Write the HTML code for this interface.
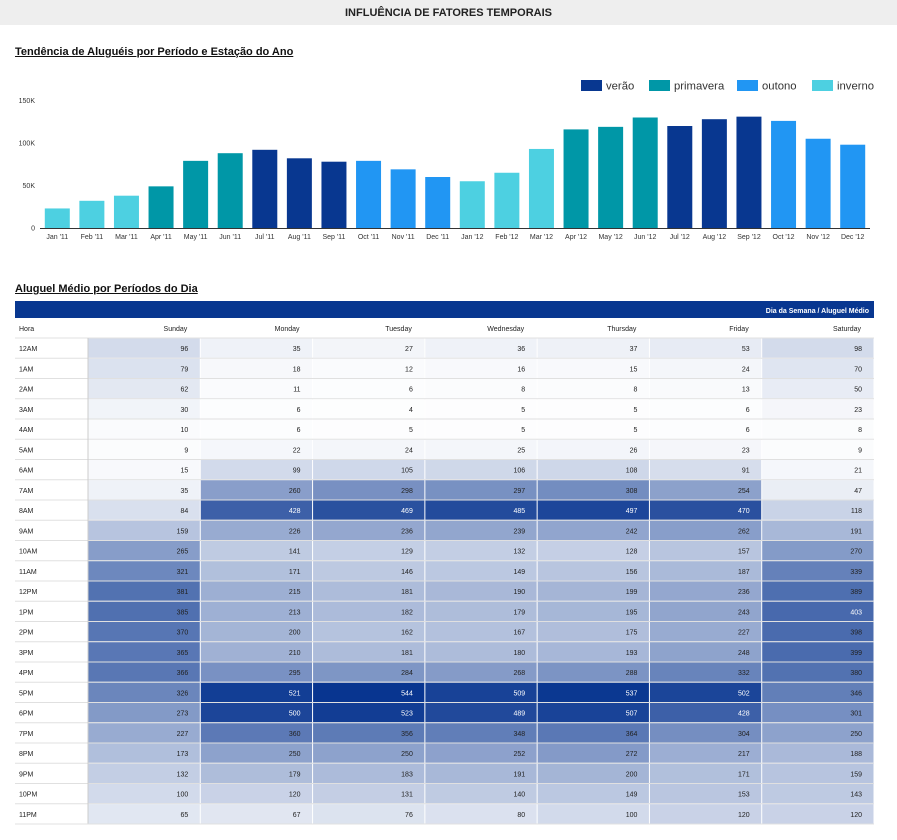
<!DOCTYPE html>
<html><head><meta charset="utf-8">
<style>
body{margin:0;width:897px;height:840px;background:#fff;font-family:"Liberation Sans",sans-serif;position:relative;overflow:hidden}
.top{position:absolute;left:0;top:0;width:897px;height:25px;background:#eeeeee;text-align:center;font-weight:bold;font-size:11px;line-height:26px;color:#222}
.sec{position:absolute;left:15px;font-weight:bold;font-size:11px;text-decoration:underline;color:#111}
</style></head><body>
<div class="top">INFLUÊNCIA DE FATORES TEMPORAIS</div>
<div class="sec" style="top:46px">Tendência de Aluguéis por Período e Estação do Ano</div>
<svg id="chart" width="897" height="260" style="position:absolute;left:0;top:0"></svg>
<div class="sec" style="top:283px">Aluguel Médio por Períodos do Dia</div>
<svg id="heat" width="897" height="540" style="position:absolute;left:0;top:300px"></svg>
<script>
const months=["Jan '11","Feb '11","Mar '11","Apr '11","May '11","Jun '11","Jul '11","Aug '11","Sep '11","Oct '11","Nov '11","Dec '11","Jan '12","Feb '12","Mar '12","Apr '12","May '12","Jun '12","Jul '12","Aug '12","Sep '12","Oct '12","Nov '12","Dec '12"];
const rentals=[23000,32000,38000,49000,79000,88000,92000,82000,78000,79000,69000,60000,55000,65000,93000,116000,119000,130000,120000,128000,131000,126000,105000,98000];
const seasonOf=["inverno","inverno","inverno","primavera","primavera","primavera","verão","verão","verão","outono","outono","outono","inverno","inverno","inverno","primavera","primavera","primavera","verão","verão","verão","outono","outono","outono"];
const seasons=["verão","primavera","outono","inverno"];
const yTicks=[0,50000,100000,150000];
const yTickLabels=["0","50K","100K","150K"];
const hours=["12AM","1AM","2AM","3AM","4AM","5AM","6AM","7AM","8AM","9AM","10AM","11AM","12PM","1PM","2PM","3PM","4PM","5PM","6PM","7PM","8PM","9PM","10PM","11PM"];
const days=["Sunday","Monday","Tuesday","Wednesday","Thursday","Friday","Saturday"];
const sunday=[96,79,62,30,10,9,15,35,84,159,265,321,381,385,370,365,366,326,273,227,173,132,100,65];
const monday=[35,18,11,6,6,22,99,260,428,226,141,171,215,213,200,210,295,521,500,360,250,179,120,67];
const tuesday=[27,12,6,4,5,24,105,298,469,236,129,146,181,182,162,181,284,544,523,356,250,183,131,76];
const wednesday=[36,16,8,5,5,25,106,297,485,239,132,149,190,179,167,180,268,509,489,348,252,191,140,80];
const thursday=[37,15,8,5,5,26,108,308,497,242,128,156,199,195,175,193,288,537,507,364,272,200,149,100];
const friday=[53,24,13,6,6,23,91,254,470,262,157,187,236,243,227,248,332,502,428,304,217,171,153,120];
const saturday=[98,70,50,23,8,9,21,47,118,191,270,339,389,403,398,399,380,346,301,250,188,159,143,120];
const colors={"verão":"#083790","primavera":"#0097a7","outono":"#2196f3","inverno":"#4dd0e1"};
const NS="http://www.w3.org/2000/svg";
function mk(p,t,a){const e=document.createElementNS(NS,t);for(const k in a)e.setAttribute(k,a[k]);p.appendChild(e);return e;}
const c=document.getElementById('chart');
const x0=40,x1=870,yBase=228,yTop=100.5,yMax=150000;
const step=(x1-x0)/months.length,bw=25;
const ys=v=>yBase-(v/yMax)*(yBase-yTop);
const xs=i=>x0+i*step+(step-bw)/2;
yTicks.forEach((t,i)=>{const e=mk(c,'text',{x:35,y:ys(t)+2.5,'text-anchor':'end','font-size':7,fill:'#333'});e.textContent=yTickLabels[i];

});
rentals.forEach((v,i)=>{const r=mk(c,'rect',{x:xs(i),y:ys(v),width:bw,height:yBase-ys(v),fill:colors[seasonOf[i]]});


const t=mk(c,'text',{x:xs(i)+bw/2,y:239,'text-anchor':'middle','font-size':7,fill:'#333'});t.textContent=months[i];

});
const ax=mk(c,'line',{x1:x0,x2:x1,y1:yBase+0.5,y2:yBase+0.5,stroke:'#333','stroke-width':1});


const legX=[581,649,737,812];
seasons.forEach((s,i)=>{const g=mk(c,'g',{});


mk(g,'rect',{x:legX[i],y:80,width:21,height:11,fill:colors[s]});
const t=mk(g,'text',{x:legX[i]+25,y:89.5,'font-size':11.3,fill:'#333'});t.textContent=s;});
// heatmap
const h=document.getElementById('heat');
const cols=[sunday,monday,tuesday,wednesday,thursday,friday,saturday];
const tx0=15,tx1=874,hx=88,cw=(tx1-hx)/7,rowH=20.25,ry0=38;
const maxV=544;
const hb=mk(h,'rect',{x:tx0,y:1,width:tx1-tx0,height:17,fill:'#083790'});


const ht=mk(h,'text',{x:tx1-5,y:13,'text-anchor':'end','font-size':7,'font-weight':'bold',fill:'#fff'});ht.textContent='Dia da Semana / Aluguel Médio';
const hh=mk(h,'text',{x:19,y:31,'font-size':7,fill:'#222'});hh.textContent='Hora';


days.forEach((d,j)=>{const t=mk(h,'text',{x:hx+(j+1)*cw-13,y:31,'text-anchor':'end','font-size':7,fill:'#222'});t.textContent=d;

});
function col(v){const f=v/maxV;const a=[255,255,255],b=[8,53,144];return 'rgb('+a.map((x,k)=>Math.round(x+(b[k]-x)*f)).join(',')+')';}
hours.forEach((hr,i)=>{const y=ry0+i*rowH;
mk(h,'line',{x1:tx0,x2:tx1,y1:y,y2:y,stroke:'#e0e0e0','stroke-width':1});
const t=mk(h,'text',{x:19,y:y+13,'font-size':7,fill:'#222'});t.textContent=hr;


cols.forEach((arr,j)=>{const v=arr[i];
const r=mk(h,'rect',{x:hx+j*cw+0.5,y:y+0.5,width:cw-1,height:rowH-1,fill:col(v)});


const vt=mk(h,'text',{x:hx+(j+1)*cw-12,y:y+13,'text-anchor':'end','font-size':7,fill:v>400?'#fff':'#222'});vt.textContent=v;});});
mk(h,'line',{x1:hx,x2:hx,y1:ry0,y2:ry0+24*rowH,stroke:'#ccc','stroke-width':1});
mk(h,'line',{x1:tx0,x2:tx1,y1:ry0+24*rowH,y2:ry0+24*rowH,stroke:'#e0e0e0','stroke-width':1});
</script>
</body></html>
